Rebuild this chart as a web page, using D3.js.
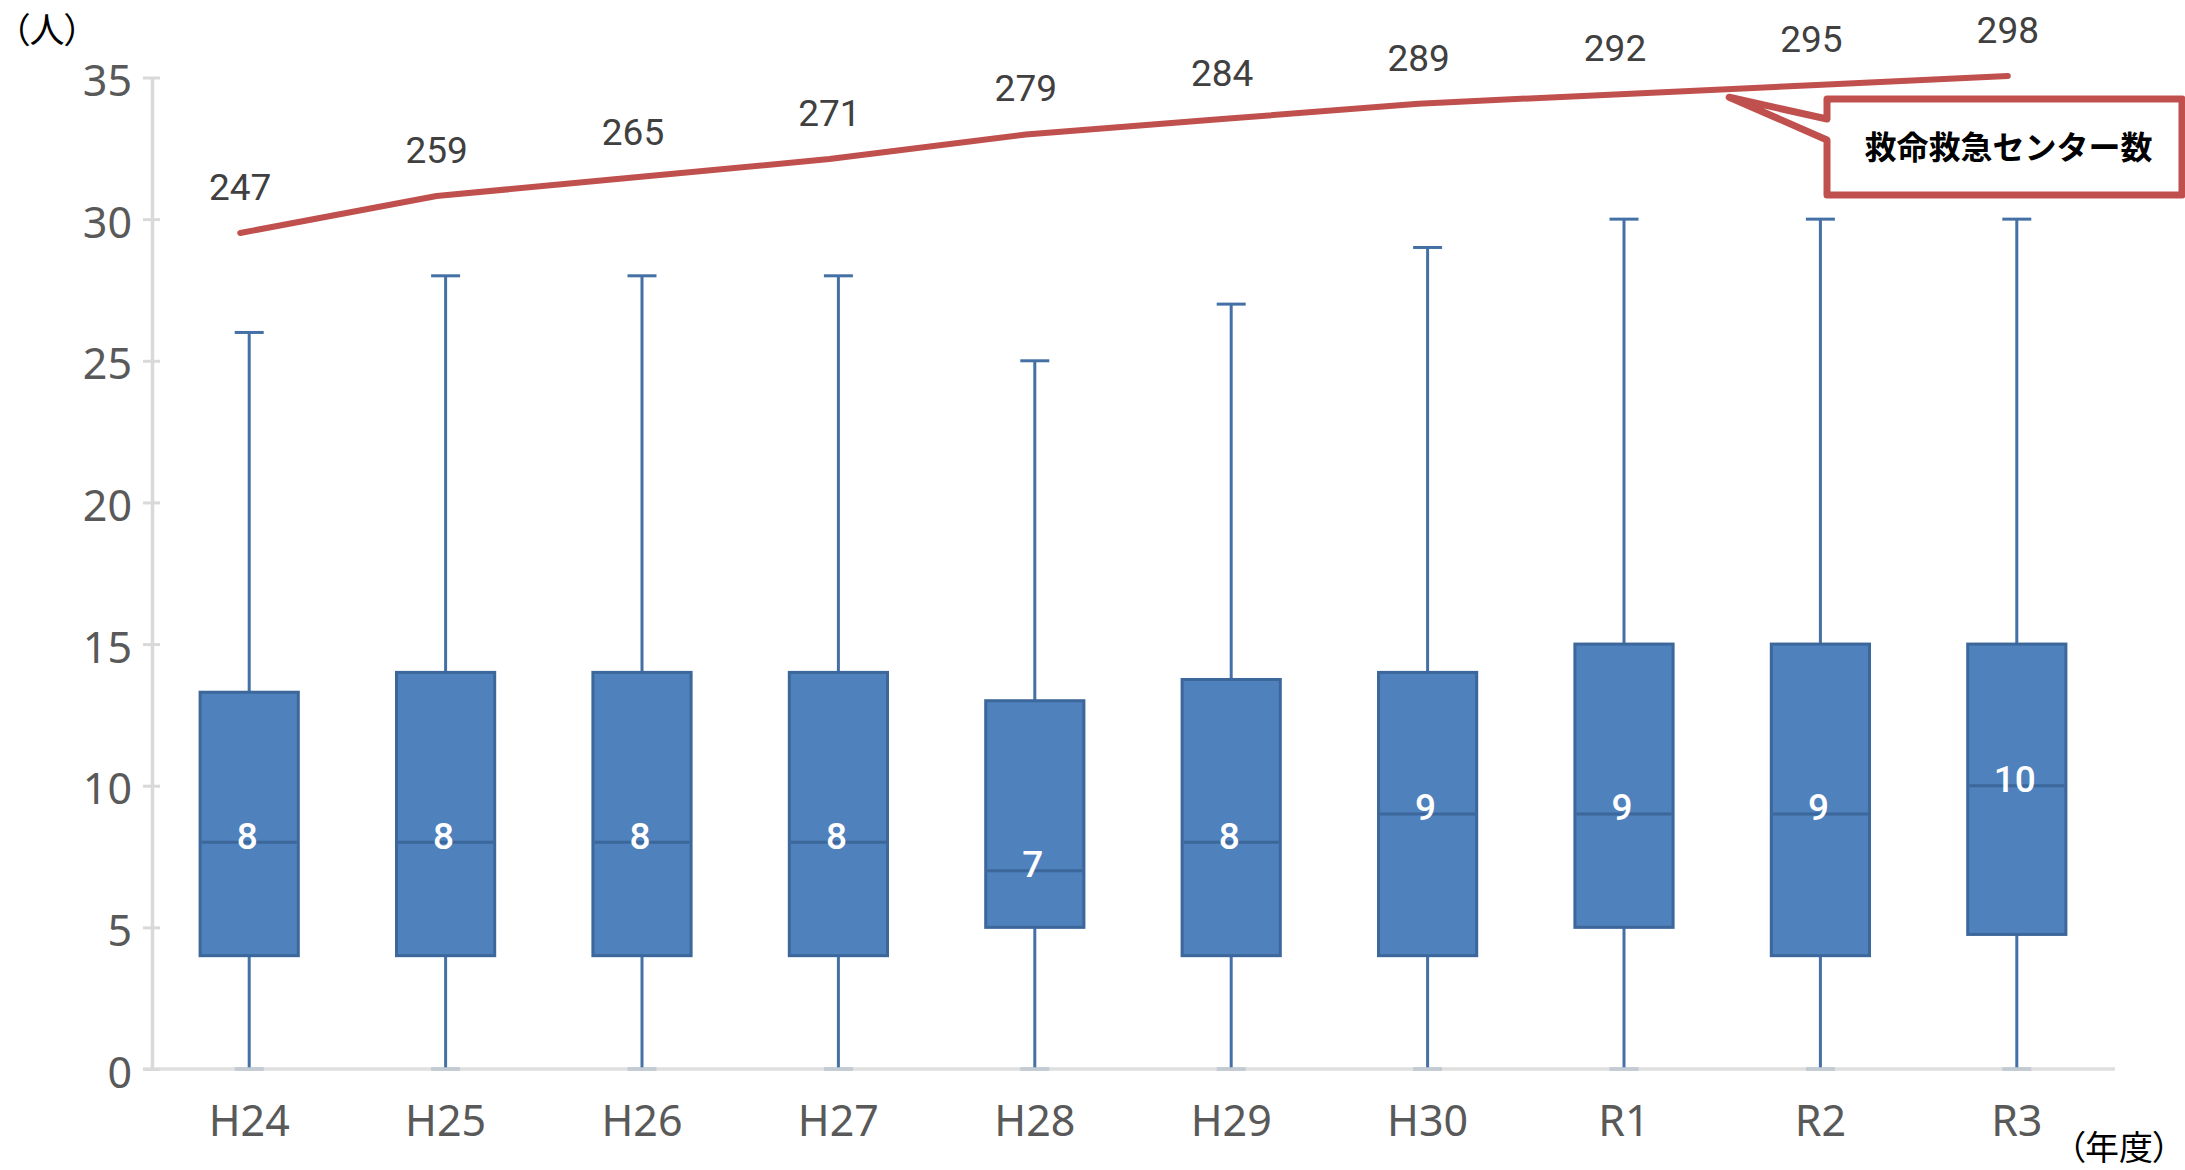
<!DOCTYPE html>
<html lang="ja">
<head>
<meta charset="utf-8">
<script src="https://cdn.jsdelivr.net/npm/d3@7"></script>
<style>
  html, body { margin: 0; padding: 0; background: #ffffff; }
  svg { display: block; }
</style>
</head>
<body>
<svg id="chart" width="2185" height="1170"></svg>
<script>
// 年度
const years = ["H24", "H25", "H26", "H27", "H28", "H29", "H30", "R1", "R2", "R3"];

// 箱ひげ図（人）
const whiskerMin = [0, 0, 0, 0, 0, 0, 0, 0, 0, 0];
const quartile1  = [4, 4, 4, 4, 5, 4, 4, 5, 4, 4.75];
const medians    = [8, 8, 8, 8, 7, 8, 9, 9, 9, 10];
const quartile3  = [13.3, 14, 14, 14, 13, 13.75, 14, 15, 15, 15];
const whiskerMax = [26, 28, 28, 28, 25, 27, 29, 30, 30, 30];

// 救命救急センター数
const centerCounts = [247, 259, 265, 271, 279, 284, 289, 292, 295, 298];

const yTicks = [0, 5, 10, 15, 20, 25, 30, 35];

const svg = d3.select("#chart");

const plot = { left: 151, right: 2115, top: 77.5, bottom: 1069 };

const x = d3.scaleBand()
  .domain(years)
  .range([plot.left, plot.right])
  .padding(0);

const y = d3.scaleLinear()
  .domain([0, 35])
  .range([plot.bottom, plot.top]);

// secondary scale for the centre count line
const yLine = d3.scaleLinear()
  .domain([0, 300])
  .range([993.4, 69.8]);

const boxW = x.bandwidth() * 0.5;
const capW = 29;
const cx = d => x(d) + x.bandwidth() / 2;

const boxFill = "#4f81bd";
const boxStroke = "#3c679b";
const whiskerColor = "#4470a6";
const lineColor = "#c0504d";
const axisGray = "#d9d9d9";
const labelGray = "#595959";

// y axis
const yAxis = d3.axisLeft(y)
  .tickValues(yTicks)
  .tickSize(0)
  .tickPadding(20)
  .tickFormat(d3.format("d"));

const gy = svg.append("g")
  .attr("transform", `translate(${plot.left + 1},0)`)
  .call(yAxis);
gy.select(".domain").attr("stroke", axisGray).attr("stroke-width", 3.5);
gy.selectAll(".tick text")
  .attr("fill", labelGray)
  .attr("font-family", "'Noto Sans', sans-serif")
  .attr("font-size", 43)
  .attr("dy", "0.42em");
gy.selectAll(".tick")
  .append("line")
  .attr("x1", -9).attr("x2", 8)
  .attr("stroke", axisGray)
  .attr("stroke-width", 3);

// whiskers
const data = years.map((yr, i) => ({
  yr, min: whiskerMin[i], q1: quartile1[i], med: medians[i], q3: quartile3[i], max: whiskerMax[i]
}));

const g = svg.append("g");

g.selectAll(".whisker-up").data(data).join("line")
  .attr("x1", d => cx(d.yr)).attr("x2", d => cx(d.yr))
  .attr("y1", d => y(d.q3)).attr("y2", d => y(d.max))
  .attr("stroke", whiskerColor).attr("stroke-width", 3);

g.selectAll(".whisker-down").data(data).join("line")
  .attr("x1", d => cx(d.yr)).attr("x2", d => cx(d.yr))
  .attr("y1", d => y(d.q1)).attr("y2", d => y(d.min))
  .attr("stroke", whiskerColor).attr("stroke-width", 3);

g.selectAll(".cap-max").data(data).join("line")
  .attr("x1", d => cx(d.yr) - capW / 2).attr("x2", d => cx(d.yr) + capW / 2)
  .attr("y1", d => y(d.max)).attr("y2", d => y(d.max))
  .attr("stroke", whiskerColor).attr("stroke-width", 3);

g.selectAll(".cap-min").data(data).join("line")
  .attr("x1", d => cx(d.yr) - capW / 2).attr("x2", d => cx(d.yr) + capW / 2)
  .attr("y1", d => y(d.min)).attr("y2", d => y(d.min))
  .attr("stroke", whiskerColor).attr("stroke-width", 3);

// boxes
g.selectAll(".box").data(data).join("rect")
  .attr("x", d => cx(d.yr) - boxW / 2)
  .attr("width", boxW)
  .attr("y", d => y(d.q3))
  .attr("height", d => y(d.q1) - y(d.q3))
  .attr("fill", boxFill)
  .attr("stroke", boxStroke)
  .attr("stroke-width", 3);

g.selectAll(".median").data(data).join("line")
  .attr("x1", d => cx(d.yr) - boxW / 2 + 1.5).attr("x2", d => cx(d.yr) + boxW / 2 - 1.5)
  .attr("y1", d => y(d.med)).attr("y2", d => y(d.med))
  .attr("stroke", boxStroke).attr("stroke-width", 3);

g.selectAll(".median-label").data(data).join("text")
  .attr("x", d => cx(d.yr) - 2)
  .attr("y", d => y(d.med) - 7)
  .attr("dy", "0.36em")
  .attr("text-anchor", "middle")
  .attr("fill", "#ffffff")
  .attr("font-family", "Roboto, sans-serif")
  .attr("font-weight", 500)
  .attr("font-size", 37)
  .text(d => d.med);

// x axis
const xAxis = d3.axisBottom(x).tickSize(0).tickPadding(36);
const gx = svg.append("g")
  .attr("transform", `translate(0,${plot.bottom})`)
  .call(xAxis);
gx.select(".domain")
  .attr("d", `M${plot.left - 8},0H${plot.right}`)
  .attr("stroke", axisGray)
  .attr("stroke-opacity", 0.85)
  .attr("stroke-width", 3.5);
gx.selectAll(".tick text")
  .attr("fill", labelGray)
  .attr("font-family", "'Noto Sans', sans-serif")
  .attr("font-size", 43);

// centre count line
const lineOffset = -9;
const pts = years.map((yr, i) => [cx(yr) + lineOffset, yLine(centerCounts[i])]);

svg.append("path")
  .attr("d", d3.line()(pts))
  .attr("fill", "none")
  .attr("stroke", lineColor)
  .attr("stroke-width", 6)
  .attr("stroke-linecap", "round")
  .attr("stroke-linejoin", "round");

svg.append("g").selectAll("text").data(centerCounts).join("text")
  .attr("x", (d, i) => pts[i][0])
  .attr("y", (d, i) => pts[i][1] - 33)
  .attr("text-anchor", "middle")
  .attr("fill", "#404040")
  .attr("font-family", "Roboto, sans-serif")
  .attr("font-size", 37)
  .text(d => d);

// callout label for the line
const box = { left: 1827, top: 99, right: 2182, bottom: 195 };
const tip = [(pts[7][0] + pts[8][0]) / 2 + 16, yLine(centerCounts[8]) + 12];
svg.append("path")
  .attr("d", [
    `M${box.left},${box.top}`,
    `H${box.right}`,
    `V${box.bottom}`,
    `H${box.left}`,
    `V${box.top + 41}`,
    `L${tip[0]},${tip[1]}`,
    `L${box.left},${box.top + 20}`,
    "Z"
  ].join(""))
  .attr("fill", "#ffffff")
  .attr("stroke", lineColor)
  .attr("stroke-width", 7)
  .attr("stroke-linejoin", "round");

svg.append("text")
  .attr("x", (box.left + box.right) / 2 + 4)
  .attr("y", (box.top + box.bottom) / 2)
  .attr("dy", "0.36em")
  .attr("text-anchor", "middle")
  .attr("fill", "#000000")
  .attr("font-family", "'Noto Sans CJK JP', sans-serif")
  .attr("font-weight", 700)
  .attr("font-size", 32)
  .text("救命救急センター数");

// unit labels
svg.append("text")
  .attr("x", 12)
  .attr("y", 43)
  .attr("fill", "#000000")
  .attr("font-family", "'Noto Sans CJK JP', sans-serif")
  .attr("font-size", 35)
  .style("font-feature-settings", "'palt'")
  .text("（人）");

svg.append("text")
  .attr("x", 2170)
  .attr("y", 1160)
  .attr("text-anchor", "end")
  .attr("fill", "#000000")
  .attr("font-family", "'Noto Sans CJK JP', sans-serif")
  .attr("font-size", 34)
  .style("font-feature-settings", "'palt'")
  .text("（年度）");
</script>
</body>
</html>
